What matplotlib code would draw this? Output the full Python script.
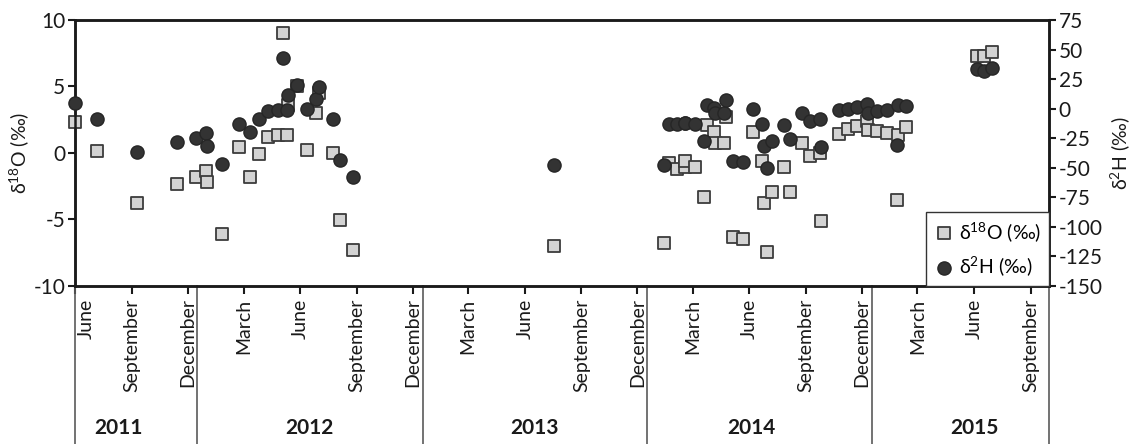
import matplotlib
matplotlib.use('Agg')
import matplotlib.pyplot as plt
import matplotlib.transforms as mtransforms
import pandas as pd

plt.rcParams['font.family'] = ['Lato', 'DejaVu Sans']
plt.rcParams['mathtext.default'] = 'regular'
plt.rcParams['axes.unicode_minus'] = False

# sampling dates and isotope values (permil)
sample_dates = [
    '2011-06-16', '2011-07-21', '2011-09-24', '2011-11-29', '2011-12-30',
    '2012-01-15', '2012-01-17', '2012-02-10', '2012-03-09', '2012-03-27',
    '2012-04-10', '2012-04-25', '2012-05-11', '2012-05-19', '2012-05-26',
    '2012-05-27', '2012-06-11', '2012-06-27', '2012-07-12', '2012-07-17',
    '2012-08-09', '2012-08-20', '2012-09-10',
    '2013-08-02',
    '2014-01-28', '2014-02-06', '2014-02-18', '2014-03-03', '2014-03-04',
    '2014-03-20', '2014-04-04', '2014-04-08', '2014-04-20', '2014-04-21',
    '2014-05-05', '2014-05-09', '2014-05-20', '2014-06-06', '2014-06-22',
    '2014-07-06', '2014-07-10', '2014-07-14', '2014-07-22', '2014-08-12',
    '2014-08-21', '2014-09-09', '2014-09-22', '2014-10-08', '2014-10-10',
    '2014-11-08', '2014-11-23', '2014-12-08', '2014-12-25', '2014-12-26',
    '2015-01-10', '2015-01-26', '2015-02-11', '2015-02-13', '2015-02-25',
    '2015-06-21', '2015-07-03', '2015-07-15',
]
d18o = [
    2.35, 0.17, -3.78, -2.33, -1.78,
    -1.33, -2.16, -6.11, 0.47, -1.78,
    -0.08, 1.18, 1.35, 9.0, 1.35,
    3.6, 5.04, 0.23, 2.98, 4.49,
    -0.03, -5.04, -7.29,
    -6.97,
    -6.74, -0.73, -1.2, -1.08, -0.6,
    -1.08, -3.28, 2.1, 1.6, 0.73,
    0.73, 2.73, -6.29, -6.49, 1.6,
    -0.58, -3.78, -7.42, -2.96, -1.08,
    -2.96, 0.73, -0.2, 0.02, -5.11,
    1.41, 1.8, 2.03, 2.41, 1.73,
    1.68, 1.53, -3.53, 1.35, 1.93,
    7.29, 7.29, 7.62,
]
d2h = [
    5.1, -9.0, -36.6, -28.5, -25.1,
    -20.9, -31.6, -47.1, -13.2, -19.4,
    -9.0, -1.9, -1.1, 42.6, -1.1,
    11.6, 20.0, -0.5, 8.0, 18.6,
    -9.0, -43.7, -57.5,
    -47.6,
    -47.6, -13.2, -13.2, -12.0, -12.4,
    -12.9, -27.3, 3.1, 0.3, -3.6,
    -3.4, 7.4, -44.2, -45.3, 0.0,
    -13.2, -31.6, -49.9, -27.3, -13.8,
    -25.6, -3.9, -10.4, -9.0, -32.1,
    -1.1, -0.3, 1.2, 4.0, -3.4,
    -1.7, -1.1, -30.7, 3.1, 2.3,
    33.3, 32.1, 34.7,
]

month_ticks = pd.date_range('2011-06-01', '2015-09-01', freq='3MS') + pd.Timedelta(days=15)
month_labels = [d.strftime('%B') for d in month_ticks]
year_breaks = ['2012-01-01', '2013-01-01', '2014-01-01', '2015-01-01']
year_names = ['2011', '2012', '2013', '2014', '2015']
year_label_pos = ['2011-08-25', '2012-07-01', '2013-07-01', '2014-06-20', '2015-06-17']
x_start, x_end = pd.Timestamp('2011-06-16'), pd.Timestamp('2015-10-16')

fig = plt.figure(figsize=(11.38, 4.44), dpi=100)
ax = fig.add_axes([0.0659, 0.3559, 0.8559, 0.5991])
ax2 = ax.twinx()

dates = pd.to_datetime(sample_dates)
sq = ax.scatter(dates, d18o, marker='s', s=72, facecolor='#d3d3d3',
                edgecolor='#3c3c3c', linewidth=1.3, clip_on=False, zorder=3,
                label='δ$^{18}$O (‰)')
ci = ax2.scatter(dates, d2h, marker='o', s=90, facecolor='#333333',
                 edgecolor='#262626', linewidth=1.0, clip_on=False, zorder=3,
                 label='δ$^{2}$H (‰)')

ax.set_xlim(x_start, x_end)
ax.set_ylim(-10, 10)
ax.set_yticks([-10, -5, 0, 5, 10])
ax2.set_ylim(-150, 75)
ax2.set_yticks(range(-150, 76, 25))

ax.set_xticks(month_ticks)
ax.set_xticklabels(month_labels, rotation=90, va='top', ha='center')
ax.tick_params(axis='x', direction='out', length=6, width=1.5, pad=3,
               labelsize=14, colors='#1a1a1a')
ax.tick_params(axis='y', direction='out', length=5, width=1.5, pad=2,
               labelsize=15, colors='#1a1a1a')
ax2.tick_params(axis='y', direction='out', length=5, width=1.5, pad=2,
                labelsize=15, colors='#1a1a1a')

# first month label sits off the spine
first = ax.get_xticklabels()[0]
first.set_transform(first.get_transform() +
                    mtransforms.ScaledTranslation(0.11, 0, fig.dpi_scale_trans))

for a in (ax, ax2):
    for sp in a.spines.values():
        sp.set_linewidth(1.8)
        sp.set_color('#1a1a1a')

# year boxes below the month labels
trans = ax.get_xaxis_transform()
for d in [x_start] + [pd.Timestamp(b) for b in year_breaks] + [x_end]:
    ax.plot([d, d], [0, -0.6], transform=trans, color='#5a5a5a', lw=1.2,
            clip_on=False)
for name, pos in zip(year_names, year_label_pos):
    ax.text(pd.Timestamp(pos), -0.535, name, transform=trans, ha='center',
            va='center', fontsize=15, fontweight='bold', color='#1a1a1a')

ax.set_ylabel('δ$^{18}$O (‰)', fontsize=14, labelpad=2, color='#1a1a1a')
ax2.set_ylabel('δ$^{2}$H (‰)', fontsize=14, labelpad=4, color='#1a1a1a')

leg = ax2.legend(handles=[sq, ci], loc='lower right', borderaxespad=0,
                 fontsize=14, frameon=True, fancybox=False, framealpha=1,
                 edgecolor='#333333', handletextpad=0.3, labelspacing=0.55,
                 borderpad=0.4, handlelength=1.0)
leg.get_frame().set_linewidth(1.0)

fig.savefig('out.png', dpi=100)
